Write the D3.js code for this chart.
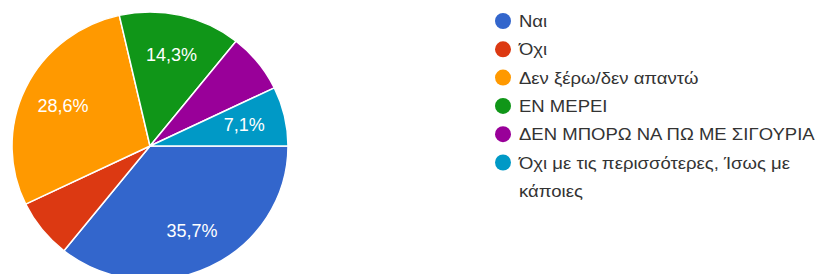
<!DOCTYPE html>
<html>
<head>
<meta charset="utf-8">
<script src="https://cdn.jsdelivr.net/npm/d3@7"></script>
<style>
  html, body { margin: 0; padding: 0; background: #fff; }
  svg { display: block; font-family: "Liberation Sans", Arial, sans-serif; }
</style>
</head>
<body>
<div id="chart"></div>
<script>
// Responses per answer (14 in total)
const categories = [
  "Ναι",
  "Όχι",
  "Δεν ξέρω/δεν απαντώ",
  "ΕΝ ΜΕΡΕΙ",
  "ΔΕΝ ΜΠΟΡΩ ΝΑ ΠΩ ΜΕ ΣΙΓΟΥΡΙΑ",
  "Όχι με τις περισσότερες, Ίσως με κάποιες"
];
const counts = [5, 1, 4, 2, 1, 1];
const legendLines = [
  ["Ναι"],
  ["Όχι"],
  ["Δεν ξέρω/δεν απαντώ"],
  ["ΕΝ ΜΕΡΕΙ"],
  ["ΔΕΝ ΜΠΟΡΩ ΝΑ ΠΩ ΜΕ ΣΙΓΟΥΡΙΑ"],
  ["Όχι με τις περισσότερες, Ίσως με", "κάποιες"]
];
const colors = ["#3366cc", "#dc3912", "#ff9900", "#109618", "#990099", "#0099c6"];

const W = 820, H = 274;
const cx = 150, cy = 146, r = 138;
const squash = 134 / 138; // source picture is slightly flattened vertically

const svg = d3.select("#chart").append("svg")
  .attr("width", W)
  .attr("height", H);

const color = d3.scaleOrdinal().domain(categories).range(colors);
const total = d3.sum(counts);
const data = categories.map((c, i) => ({ name: c, value: counts[i] }));

// Google-style pie: starts at 3 o'clock, goes clockwise
const pie = d3.pie().value(d => d.value).sort(null)
  .startAngle(Math.PI / 2).endAngle(Math.PI / 2 + 2 * Math.PI);
const arcs = pie(data);
const arc = d3.arc().innerRadius(0).outerRadius(r);
const labelArc = d3.arc().innerRadius(r * 0.7).outerRadius(r * 0.7);

const g = svg.append("g")
  .attr("transform", `translate(${cx},${cy}) scale(1,${squash})`);

g.selectAll("path")
  .data(arcs)
  .join("path")
  .attr("d", arc)
  .attr("fill", d => color(d.data.name))
  .attr("stroke", "#fff")
  .attr("stroke-width", 1.5)
  .attr("stroke-linejoin", "round");

// percent labels (the two small 1-vote slices next to big ones have none)
svg.append("g")
  .selectAll("text")
  .data(arcs.filter(d => d.index !== 1 && d.index !== 4))
  .join("text")
  .attr("x", d => cx + labelArc.centroid(d)[0])
  .attr("y", d => cy + labelArc.centroid(d)[1] * squash)
  .attr("dy", "0.35em")
  .attr("text-anchor", "middle")
  .attr("fill", "#fff")
  .style("font-size", "18px")
  .text(d => d3.format(".1f")(d.data.value / total * 100).replace(".", ",") + "%");

// legend
const lx = 503, ly = 21, step = 28.3, textX = lx + 16, stretch = 1.09;
const legend = svg.append("g");
let row = 0;
legendLines.forEach((lines, i) => {
  const y0 = ly + row * step;
  legend.append("circle")
    .attr("cx", lx)
    .attr("cy", y0)
    .attr("r", 8)
    .attr("fill", colors[i]);
  const t = legend.append("g")
    .attr("transform", `translate(${textX},${y0}) scale(${stretch},1)`)
    .append("text")
    .attr("fill", "#333")
    .style("font-size", "17px");
  lines.forEach((line, j) => {
    t.append("tspan")
      .attr("x", 0)
      .attr("y", j * step)
      .attr("dy", "0.36em")
      .text(line);
  });
  row += lines.length;
});
</script>
</body>
</html>
